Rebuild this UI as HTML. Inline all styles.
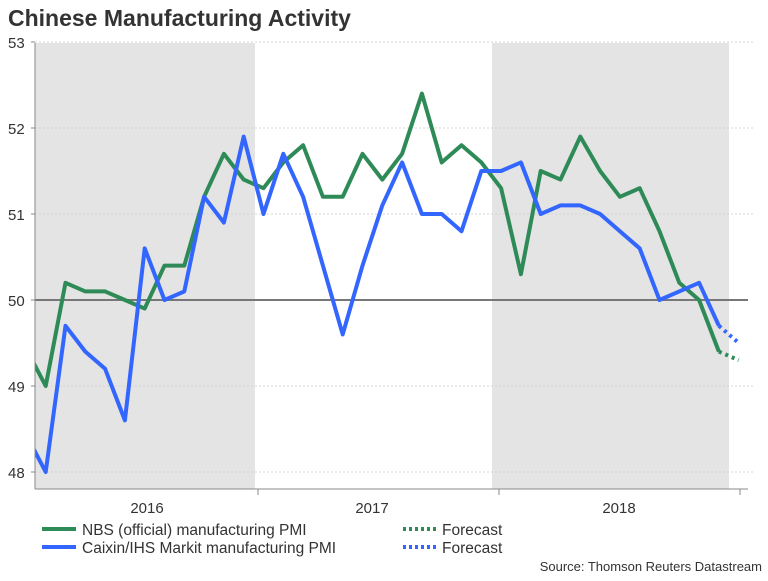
<!DOCTYPE html>
<html><head><meta charset="utf-8"><style>
body{margin:0;background:#fff;font-family:"Liberation Sans",sans-serif}
</style></head><body>
<svg width="768" height="576" viewBox="0 0 768 576">
<text x="8" y="26" font-size="23" font-weight="bold" fill="#333">Chinese Manufacturing Activity</text>
<g id="bg"></g>
<g id="grid"></g>
<defs><clipPath id="pc"><rect x="35" y="30" width="720" height="460"/></clipPath></defs>
<g id="series" clip-path="url(#pc)"></g>
<g id="axes"></g>
<g font-size="15.5" fill="#333">
<line x1="42" y1="529" x2="76" y2="529" stroke="#2e8b57" stroke-width="4"/>
<text x="82" y="535">NBS (official) manufacturing PMI</text>
<line x1="42" y1="547" x2="76" y2="547" stroke="#3366ff" stroke-width="4"/>
<text x="82" y="553">Caixin/IHS Markit manufacturing PMI</text>
<line x1="403" y1="529" x2="437" y2="529" stroke="#2e8b57" stroke-width="4" stroke-dasharray="3,3"/>
<text x="442" y="535">Forecast</text>
<line x1="403" y1="547" x2="437" y2="547" stroke="#3366ff" stroke-width="4" stroke-dasharray="3,3"/>
<text x="442" y="553">Forecast</text>
</g>
<text x="762" y="571" font-size="13" fill="#333" text-anchor="end">Source: Thomson Reuters Datastream</text>
</svg>
<script>
const yTicks=[48,49,50,51,52,53];
const years=["2016","2017","2018"];
const nbs=[49.44,49.0,50.2,50.1,50.1,50.0,49.9,50.4,50.4,51.2,51.7,51.4,51.3,51.6,51.8,51.2,51.2,51.7,51.4,51.7,52.4,51.6,51.8,51.6,51.3,50.3,51.5,51.4,51.9,51.5,51.2,51.3,50.8,50.2,50.0,49.4];
const caixin=[48.44,48.0,49.7,49.4,49.2,48.6,50.6,50.0,50.1,51.2,50.9,51.9,51.0,51.7,51.2,50.4,49.6,50.4,51.1,51.6,51.0,51.0,50.8,51.5,51.5,51.6,51.0,51.1,51.1,51.0,50.8,50.6,50.0,50.1,50.2,49.7];
const nbsForecast=[49.3];
const caixinForecast=[49.5];
const NS="http://www.w3.org/2000/svg";
const X=i=>45.7+19.8*(i-1);
const Y=v=>300-(v-50)*86;
function mk(t,a,p){const e=document.createElementNS(NS,t);for(const k in a)e.setAttribute(k,a[k]);p.appendChild(e);return e;}
const bg=document.getElementById('bg'),grid=document.getElementById('grid'),ser=document.getElementById('series'),ax=document.getElementById('axes');
let r=mk('rect',{x:35,y:43,width:220,height:446,fill:'#e4e4e4'},bg);

r=mk('rect',{x:492,y:43,width:237,height:446,fill:'#e4e4e4'},bg);

yTicks.forEach(v=>{
 if(v!==50){const g=mk('line',{x1:35,x2:755,y1:Y(v),y2:Y(v),stroke:'#d4d4d4','stroke-dasharray':'2,2'},grid);
 }
 const t=mk('text',{x:8,y:Y(v)+6,'font-size':15,fill:'#333'},ax);t.textContent=v;
 
 mk('line',{x1:31,x2:35,y1:Y(v),y2:Y(v),stroke:'#888'},ax);
});
let z=mk('line',{x1:35,x2:748,y1:Y(50),y2:Y(50),stroke:'#777','stroke-width':2},grid);

function path(arr,off){return arr.map((v,i)=>(i?'L':'M')+X(i+off).toFixed(1)+','+Y(v).toFixed(1)).join('');}
let p=mk('path',{d:path(nbs,0),fill:'none',stroke:'#2e8b57','stroke-width':4,'stroke-linejoin':'round'},ser);

p=mk('path',{d:path(caixin,0),fill:'none',stroke:'#3366ff','stroke-width':4,'stroke-linejoin':'round'},ser);

p=mk('path',{d:path([nbs[nbs.length-1]].concat(nbsForecast),nbs.length-1),fill:'none',stroke:'#2e8b57','stroke-width':4,'stroke-dasharray':'3,4'},ser);

p=mk('path',{d:path([caixin[caixin.length-1]].concat(caixinForecast),caixin.length-1),fill:'none',stroke:'#3366ff','stroke-width':4,'stroke-dasharray':'3,4'},ser);

let a=mk('line',{x1:35,x2:35,y1:43,y2:489,stroke:'#888'},ax);

a=mk('line',{x1:35,x2:748,y1:489,y2:489,stroke:'#888'},ax);

const tickX=[258,499,740],labX=[147,372,619];
years.forEach((y,i)=>{
 mk('line',{x1:tickX[i],x2:tickX[i],y1:489,y2:495,stroke:'#888'},ax);
 const t=mk('text',{x:labX[i],y:513,'font-size':15,fill:'#333','text-anchor':'middle'},ax);t.textContent=y;
 
});
</script>
</body></html>
